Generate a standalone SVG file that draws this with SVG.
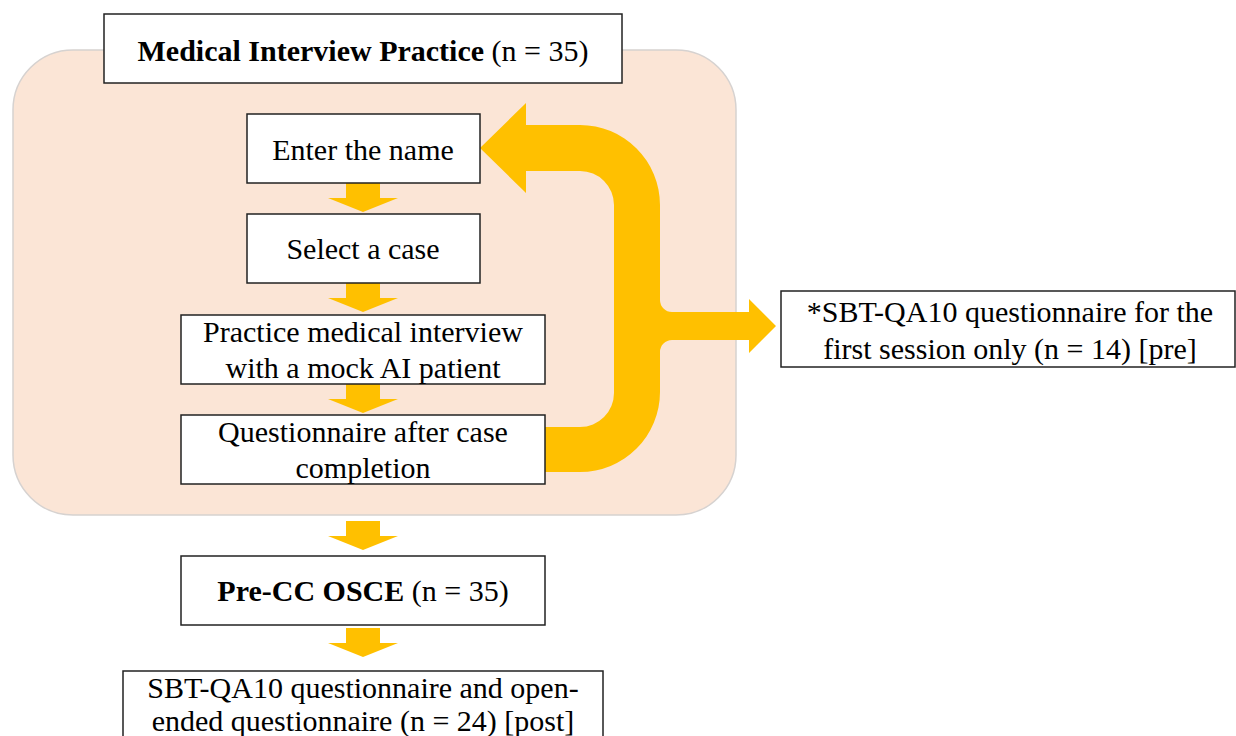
<svg xmlns="http://www.w3.org/2000/svg" xmlns:xlink="http://www.w3.org/1999/xlink" width="1236" height="736" viewBox="0 0 1236 736">
<style>
.box{fill:#fff;stroke:#222;stroke-width:1.5}
.t{font-family:"Liberation Serif","Times New Roman",serif;font-size:30px;fill:#000;text-anchor:middle}
.b{font-weight:bold}
.arrow{fill:#FFC000}
</style>
<defs>
<path id="down" d="M-17,0 h34 v15 h18 l-35,14 l-35,-14 h18 z"/>
</defs>
<rect width="1236" height="736" fill="#fff"/>
<g id="background">
<rect x="13" y="50" width="723" height="465" rx="60" ry="60" fill="#FBE5D6" stroke="#d6d2d0" stroke-width="1.5"/>
</g>
<g id="connectors" class="arrow">
<use xlink:href="#down" href="#down" x="363" y="183"/>
<use xlink:href="#down" href="#down" x="363" y="283"/>
<use xlink:href="#down" href="#down" x="363" y="384"/>
<use xlink:href="#down" href="#down" x="363" y="521"/>
<use xlink:href="#down" href="#down" x="363" y="628"/>
<path d="M480,148 L526,103 L526,125 L580,125 A80,80 0 0 1 660,205 L660,300 A12,12 0 0 0 672,312 L749,312 L749,299 L776,326 L749,353 L749,340 L672,340 A12,12 0 0 0 660,352 L660,392 A80,80 0 0 1 580,472 L545,472 L545,427 L580,427 A34,34 0 0 0 614,393 L614,205 A34,34 0 0 0 580,171 L526,171 L526,193 Z"/>
</g>
<g id="title">
<rect class="box" x="104" y="14" width="518" height="69"/>
<text class="t" x="363" y="61"><tspan class="b">Medical Interview Practice</tspan> (n = 35)</text>
</g>
<g id="enter-name">
<rect class="box" x="247" y="114" width="233" height="69"/>
<text class="t" x="363" y="160">Enter the name</text>
</g>
<g id="select-case">
<rect class="box" x="247" y="214" width="233" height="69"/>
<text class="t" x="363" y="259">Select a case</text>
</g>
<g id="practice">
<rect class="box" x="181" y="315" width="364" height="69"/>
<text class="t" x="363" y="342">Practice medical interview</text>
<text class="t" x="363" y="378">with a mock AI patient</text>
</g>
<g id="questionnaire">
<rect class="box" x="181" y="415" width="364" height="69"/>
<text class="t" x="363" y="442">Questionnaire after case</text>
<text class="t" x="363" y="478">completion</text>
</g>
<g id="sbt-pre">
<rect class="box" x="781" y="291" width="454" height="76"/>
<text class="t" x="1010" y="322">*SBT-QA10 questionnaire for the</text>
<text class="t" x="1010" y="359">first session only (n = 14) [pre]</text>
</g>
<g id="pre-cc-osce">
<rect class="box" x="181" y="556" width="364" height="69"/>
<text class="t" x="363" y="601"><tspan class="b">Pre-CC OSCE</tspan> (n = 35)</text>
</g>
<g id="sbt-post">
<rect class="box" x="123" y="671" width="480" height="80"/>
<text class="t" x="363" y="698">SBT-QA10 questionnaire and open-</text>
<text class="t" x="363" y="731">ended questionnaire (n = 24) [post]</text>
</g>
</svg>
